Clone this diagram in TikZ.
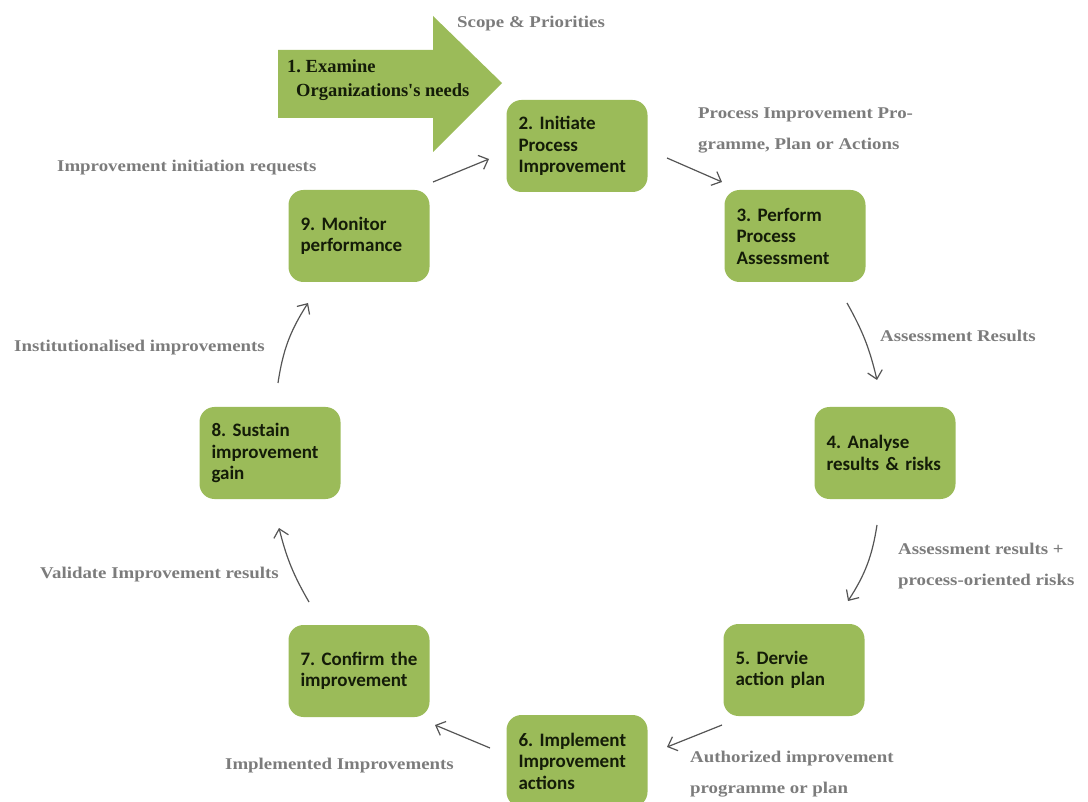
\documentclass[tikz,border=0pt]{standalone}
\usepackage{fontspec}
\usetikzlibrary{arrows.meta}
\newfontfamily\boxfont{Carlito}
\newfontfamily\lblfont[FakeStretch=1.15]{Liberation Serif}
\newfontfamily\headfont{Liberation Serif}
\definecolor{stepgreen}{HTML}{9BBB59}
\definecolor{steptext}{HTML}{141C08}
\definecolor{lblgray}{HTML}{7C7C7C}
\definecolor{flowgray}{HTML}{555555}
\frenchspacing
\begin{document}
\begin{tikzpicture}[x=1pt,y=-1pt,
  stepbox/.style={fill=stepgreen, rounded corners=15pt, minimum width=141pt,
    minimum height=92pt, text width=117pt, inner xsep=12pt, align=left,
    text=steptext, font=\boxfont\bfseries\fontsize{19}{21.5}\selectfont},
  flowlabel/.style={anchor=west, align=left, inner sep=0pt, text=lblgray,
    font=\lblfont\bfseries\fontsize{16.4}{31}\selectfont},
  flow/.style={draw=flowgray, line width=1.2pt,
    -{Straight Barb[length=8pt,width=15pt,line width=1.2pt]}}]

\useasboundingbox (0,0) rectangle (1088,802);

% entry arrow: examine the organisation's needs
\fill[stepgreen] (278,50) -- (433,50) -- (433,16) -- (502,83) -- (433,152)
  -- (433,118) -- (278,118) -- cycle;
\node[anchor=west, align=left, inner sep=0pt, text=steptext,
  font=\headfont\bfseries\fontsize{18.5}{24}\selectfont] (s1) at (287,80)
  {1. Examine\\\hspace*{9pt}Organizations's needs};

% cycle steps
\node[stepbox] (s2) at (577,146) {2. Initiate\\Process\\Improvement};
\node[stepbox] (s3) at (795,236) {3. Perform\\Process\\Assessment};
\node[stepbox] (s4) at (885,453) {4. Analyse\\results \& risks};
\node[stepbox] (s5) at (794,670) {5. Dervie\\action plan};
\node[stepbox] (s6) at (577,761) {6. Implement\\Improvement\\actions};
\node[stepbox] (s7) at (359,671) {7. Confirm the\\improvement};
\node[stepbox] (s8) at (270,453) {8. Sustain\\improvement\\gain};
\node[stepbox] (s9) at (359,236) {9. Monitor\\performance};

% connector end points
\coordinate (a92s) at (433,182); \coordinate (a92e) at (489,159);
\coordinate (a23s) at (667,158); \coordinate (a23e) at (722,182);
\coordinate (a34s) at (847,303); \coordinate (a34e) at (877,380);
\coordinate (a45s) at (877,525); \coordinate (a45e) at (848,601);
\coordinate (a56s) at (722,725); \coordinate (a56e) at (667,747);
\coordinate (a67s) at (490,748); \coordinate (a67e) at (435,725);
\coordinate (a78s) at (309,602); \coordinate (a78e) at (279,528);
\coordinate (a89s) at (278,383); \coordinate (a89e) at (308,303);

\draw[flow] (a92s) -- (a92e);
\draw[flow] (a23s) -- (a23e);
\draw[flow] (a34s) to[bend left=8] (a34e);
\draw[flow] (a45s) to[bend left=12] (a45e);
\draw[flow] (a56s) -- (a56e);
\draw[flow] (a67s) -- (a67e);
\draw[flow] (a78s) to[bend left=8] (a78e);
\draw[flow] (a89s) to[bend left=12] (a89e);

% outputs passed between steps
\node[flowlabel] (l1) at (457,24) {Scope \& Priorities};
\node[flowlabel] (l2) at (698,130) {Process Improvement Pro-\\gramme, Plan or Actions};
\node[flowlabel] (l3) at (880,336) {Assessment Results};
\node[flowlabel] (l4) at (898,566) {Assessment results +\\process-oriented risks};
\node[flowlabel] (l5) at (690,774) {Authorized improvement\\programme or plan};
\node[flowlabel] (l6) at (225,766) {Implemented Improvements};
\node[flowlabel] (l7) at (40,575) {Validate Improvement results};
\node[flowlabel] (l8) at (14,348) {Institutionalised improvements};
\node[flowlabel] (l9) at (57,168) {Improvement initiation requests};

\end{tikzpicture}
\end{document}
